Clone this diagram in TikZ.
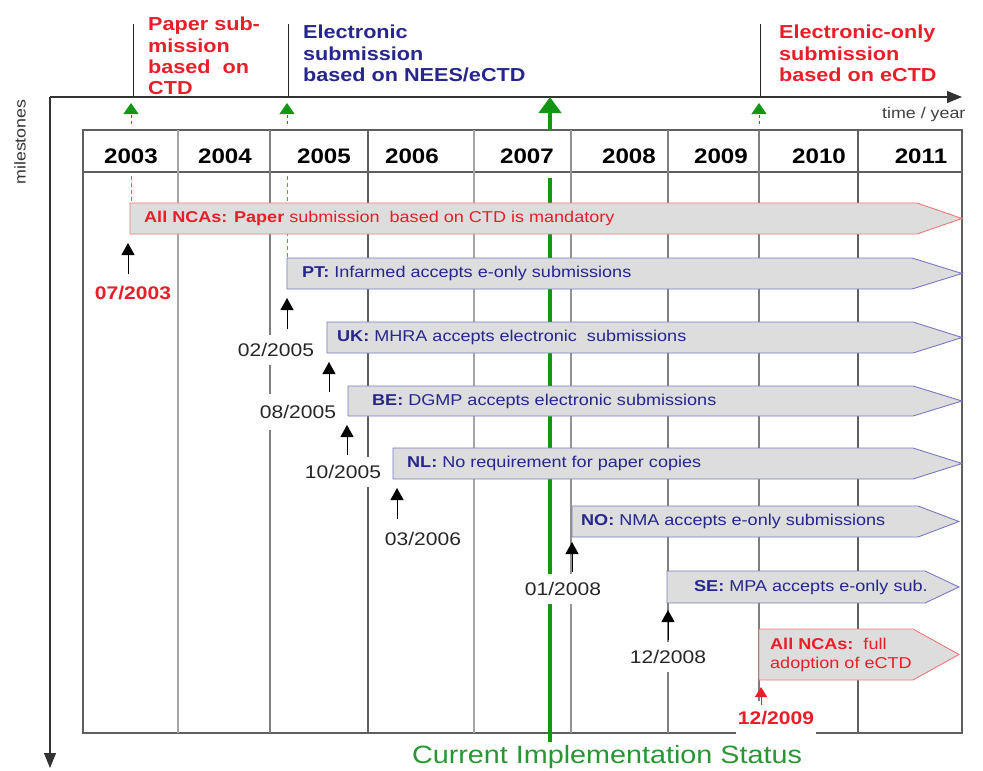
\documentclass[tikz,border=0pt]{standalone}
\usepackage{fontspec}
\setmainfont{Liberation Sans}[FakeStretch=1.15]
\usetikzlibrary{arrows.meta}
\definecolor{tlred}{RGB}{232,30,40}
\definecolor{tlblue}{RGB}{38,38,140}
\definecolor{tlblueb}{RGB}{120,120,195}
\definecolor{tlredb}{RGB}{240,120,120}
\definecolor{barfill}{RGB}{221,221,221}
\definecolor{tlgreen}{RGB}{20,150,20}
\definecolor{tlgreenl}{RGB}{70,175,70}
\definecolor{tlgreentxt}{RGB}{40,150,50}
\definecolor{gridA}{RGB}{165,165,165}
\definecolor{gridB}{RGB}{95,95,95}
\newcommand\tlbar[7]{%
  \draw[fill=barfill, draw=#7, line width=0.9pt] (#2,#3) -- (#5,#3) -- (#6,{(#3+#4)/2}) -- (#5,#4) -- (#2,#4) -- cycle;
  \coordinate (#1) at (#2,#4);}
\begin{document}
\begin{tikzpicture}[x=1pt,y=-1pt,
  boxtxt/.style={anchor=west, inner sep=0pt, font=\fontsize{15.7}{18}\selectfont},
  datelab/.style={fill=white, inner xsep=2pt, inner ysep=8pt, text=black!85, font=\fontsize{18.3}{20}\selectfont},
  datelabr/.style={datelab, text=tlred, font=\bfseries\fontsize{18.3}{20}\selectfont},
  yearlab/.style={inner sep=0pt, font=\bfseries\fontsize{21}{24}\selectfont},
  toptxt/.style={anchor=north west, align=left, inner sep=0pt, font=\bfseries\fontsize{18.8}{21.3}\selectfont},
  msarrow/.style={-{Triangle[width=13pt,length=12pt]}, line width=1pt},
  gsmall/.style={tlgreen, line width=1pt, dash pattern=on 3pt off 3pt, -{Triangle[width=15pt,length=11pt]}},
  gdash/.style={tlgreenl, line width=0.9pt, dash pattern=on 4pt off 3pt},
  axis/.style={line width=1.1pt, black!80, -{Triangle[width=12pt,length=15pt]}},
  gridl/.style={line width=1.2pt}
]
\useasboundingbox (0,0) rectangle (983,771);
% axes
\coordinate (O) at (50,97);
\coordinate (Xend) at (962,97);
\coordinate (Yend) at (50,768);
\draw[axis] (O) -- (Xend);
\draw[axis] (O) -- (Yend);
\node[rotate=90, text=black!80, font=\fontsize{15.5}{18}\selectfont] (mil) at (20,142) {milestones};
\node[anchor=west, inner sep=0pt, text=black!75, font=\fontsize{15.5}{18}\selectfont] (tyr) at (882,114) {time / year};
% top milestone lines
\foreach \n/\x in {a/133,b/288,c/760}{
  \coordinate (top\n) at (\x,24);
  \coordinate (bot\n) at (\x,97);
  \draw[line width=1pt, black!85] (top\n) -- (bot\n);
}
\node[toptxt, text=tlred] (tp1) at (148,17) {Paper sub-\\mission\\based\ \ on\\CTD};
\node[toptxt, text=tlblue] (tp2) at (303,25) {Electronic\\submission\\based on NEES/eCTD};
\node[toptxt, text=tlred] (tp3) at (779,25) {Electronic-only\\submission\\based on eCTD};
% green small arrows on axis
\foreach \n/\x in {a/131,b/287,c/759}{
  \coordinate (gs\n) at (\x,124);
  \coordinate (gt\n) at (\x,103);
  \draw[gsmall] (gs\n) -- (gt\n);
}
% table
\coordinate (T1) at (83,130);
\coordinate (T2) at (962,733);
\draw[gridl, gridB] (T1) rectangle (T2);
\coordinate (H1) at (83,172);
\coordinate (H2) at (962,172);
\draw[gridl, gridB] (H1) -- (H2);
\foreach \x/\c in {178/gridA,270/gridB!80,368/gridB,474/gridA,571/gridA!120,668/gridB!80,759/gridB!80,858/gridB}{
  \coordinate (cu\x) at (\x,130);
  \coordinate (cd\x) at (\x,733);
  \draw[gridl, \c] (cu\x) -- (cd\x);
}
% years
\foreach \x/\y in {131/2003,225/2004,324/2005,412/2006,527/2007,629/2008,721/2009,819/2010,921/2011}{
  \node[yearlab] (y\y) at (\x,156) {\y};
}
% green lines
\coordinate (G0) at (550,97);
\coordinate (G1) at (550,130);
\coordinate (G2) at (550,178);
\coordinate (G3) at (550,742);
\draw[tlgreen, line width=4pt, -{Triangle[width=22pt,length=16pt]}] (G1) -- (G0);
\draw[tlgreen, line width=4pt] (G2) -- (G3);
\coordinate (gd1a) at (131,176); \coordinate (gd1b) at (131,203);
\coordinate (gd2a) at (287,176); \coordinate (gd2b) at (287,258);
\draw[gdash] (gd1a) -- (gd1b);
\draw[gdash] (gd2a) -- (gd2b);
% bars
\tlbar{b1}{130}{203}{234}{917}{962}{tlredb}
\tlbar{b2}{287}{258}{289}{912}{962}{tlblueb}
\tlbar{b3}{327}{322}{353}{913}{962}{tlblueb}
\tlbar{b4}{348}{386}{416}{913}{962}{tlblueb}
\tlbar{b5}{393}{448}{479}{913}{962}{tlblueb}
\tlbar{b6}{572}{506}{537}{918}{959}{tlblueb}
\tlbar{b7}{667}{571}{603}{925}{959}{tlblueb}
\tlbar{b8}{759}{629}{680}{913}{959}{tlredb}
\node[boxtxt, text=tlred] (t1) at (144,218.5) {\textbf{All NCAs: Paper} submission\ \ based on CTD is mandatory};
\node[boxtxt, text=tlblue] (t2) at (302,273.5) {\textbf{PT:} Infarmed accepts e-only submissions};
\node[boxtxt, text=tlblue] (t3) at (337,337.5) {\textbf{UK:} MHRA accepts electronic\ \ submissions};
\node[boxtxt, text=tlblue] (t4) at (372,401) {\textbf{BE:} DGMP accepts electronic submissions};
\node[boxtxt, text=tlblue] (t5) at (407,463.5) {\textbf{NL:} No requirement for paper copies};
\node[boxtxt, text=tlblue] (t6) at (581,521.5) {\textbf{NO:} NMA accepts e-only submissions};
\node[boxtxt, text=tlblue] (t7) at (694,587) {\textbf{SE:} MPA accepts e-only sub.};
\node[boxtxt, text=tlred, align=left, font=\fontsize{15.7}{18.5}\selectfont] (t8) at (770,655) {\textbf{All NCAs:}\ \ full\\adoption of eCTD};
% date labels
\node[datelabr] (d1) at (133,293) {07/2003};
\node[datelab] (d2) at (276,350) {02/2005};
\node[datelab, inner ysep=11pt] (d3) at (298,412) {08/2005};
\node[datelab] (d4) at (343,472) {10/2005};
\node[datelab] (d5) at (423,539) {03/2006};
\node[datelab] (d6) at (563,589) {01/2008};
\node[datelab] (d7) at (668,657) {12/2008};
\node[datelabr, inner ysep=10pt] (d8) at (776,718) {12/2009};
% milestone arrows
\foreach \n/\x/\yt/\yb in {1/128/243/274,2/287/298/329,3/329/362/392,4/347/425/455,5/397/488/519,6/572/542/572,7/668/610/640}{
  \coordinate (ms\n) at (\x,\yb);
  \coordinate (mt\n) at (\x,\yt);
  \draw[msarrow] (ms\n) -- (mt\n);
}
\coordinate (ms8) at (761,705);
\coordinate (mt8) at (761,687);
\draw[msarrow, tlred, -{Triangle[width=12pt,length=10pt]}] (ms8) -- (mt8);
% bottom caption
\node[text=tlgreentxt, font=\fontsize{25}{28}\selectfont] (cis) at (607,757) {Current Implementation Status};
\end{tikzpicture}
\end{document}
